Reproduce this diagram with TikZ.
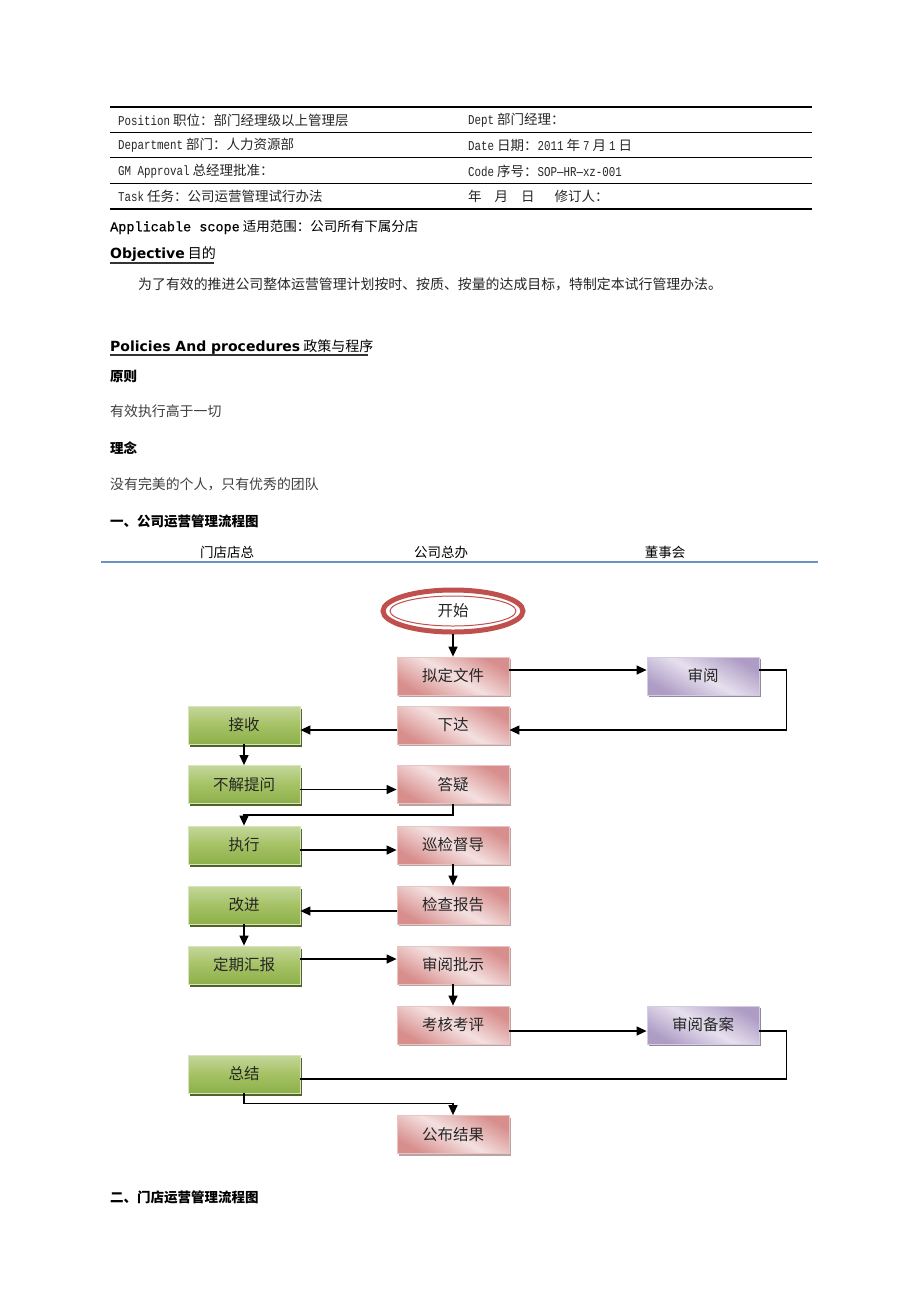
\documentclass[tikz,border=0pt]{standalone}
\usepackage{fontspec}
\setmainfont{Noto Sans CJK SC}
\newfontfamily\mono[FakeStretch=0.8]{Liberation Mono}
\newfontfamily\monow[FakeBold=0.6]{Liberation Mono}
\newfontfamily\tah{DejaVu Sans}
\usetikzlibrary{shapes.geometric,shadows,arrows.meta}
\definecolor{pinkD}{HTML}{D78E8C}
\definecolor{pinkL}{HTML}{F4E0E0}
\definecolor{pinkB}{HTML}{E8C4C3}
\definecolor{pinkS}{HTML}{B9A3A3}
\definecolor{grnT}{HTML}{C4D79B}
\definecolor{grnM}{HTML}{A5C265}
\definecolor{grnB}{HTML}{8DB04A}
\definecolor{grnE}{HTML}{D7E4BD}
\definecolor{grnS}{HTML}{4F6228}
\definecolor{purD}{HTML}{AE9CC4}
\definecolor{purL}{HTML}{E6E0EE}
\definecolor{purE}{HTML}{D5CCE2}
\definecolor{purS}{HTML}{8E8AA0}
\definecolor{startR}{HTML}{C0504D}
\definecolor{blueL}{HTML}{6C92C4}
\definecolor{txtG}{HTML}{262626}
\begin{document}
\begin{tikzpicture}[x=1pt,y=-1pt,
  txt/.style={anchor=west, inner sep=0pt, font=\fontsize{13.5}{15}\selectfont, text=black!85},
  body/.style={anchor=west, inner sep=0pt, font=\fontsize{13.9}{16}\selectfont, text=black!85},
  head/.style={anchor=west, inner sep=0pt, font=\fontsize{13.5}{16}\selectfont\bfseries},
  colh/.style={inner sep=0pt, font=\fontsize{13.5}{16}\selectfont},
  box/.style={rectangle, minimum width=112pt, minimum height=38pt, inner sep=0pt,
     font=\fontsize{15.5}{18}\selectfont, text=txtG, line width=0.8pt},
  pinkbox/.style={box, draw=pinkB, top color=pinkD, bottom color=pinkD, middle color=pinkL, shading angle=-30,
     drop shadow={shadow xshift=1.5pt, shadow yshift=-2pt, fill=pinkS, opacity=1}},
  grnbox/.style={box, draw=grnE, top color=grnT, bottom color=grnB, middle color=grnM,
     drop shadow={shadow xshift=1.5pt, shadow yshift=-2.5pt, fill=grnS, opacity=1}},
  purbox/.style={box, draw=purE, top color=purD, bottom color=purD, middle color=purL, shading angle=-30,
     drop shadow={shadow xshift=1.5pt, shadow yshift=-2pt, fill=purS, opacity=1}},
  conn/.style={draw=black, line width=1.3pt, -{Triangle[length=10pt,width=9pt]}},
  plain/.style={draw=black, line width=1.1pt}
]
\useasboundingbox[fill=white] (0,0) rectangle (920,1302);

% table
\draw[line width=1.4pt] (110,107) -- (812,107);
\draw[line width=1pt] (110,132) -- (812,132);
\draw[line width=1pt] (110,157) -- (812,157);
\draw[line width=1pt] (110,183) -- (812,183);
\draw[line width=1.4pt] (110,209) -- (812,209);
\node[txt] (t1a) at (118,120) {{\mono Position} 职位：部门经理级以上管理层};
\node[txt] (t1b) at (468,120) {{\mono Dept} 部门经理：};
\node[txt] (t2a) at (118,145) {{\mono Department} 部门：人力资源部};
\node[txt] (t2b) at (468,145) {{\mono Date} 日期：{\mono 2011} 年 {\mono 7} 月 {\mono 1} 日};
\node[txt] (t3a) at (118,171) {{\mono GM Approval} 总经理批准：};
\node[txt] (t3b) at (468,171) {{\mono Code} 序号：{\mono SOP—HR—xz-001}};
\node[txt] (t4a) at (118,196) {{\mono Task} 任务：公司运营管理试行办法};
\node[txt] (t4b) at (468,196) {年\hspace{13pt}月\hspace{13pt}日\hspace{20pt}修订人：};

% text
\node[body, font=\fontsize{13.5}{16}\selectfont, text=black] (scope) at (110,227) {{\monow Applicable scope} 适用范围：公司所有下属分店};
\node[anchor=west, inner sep=0pt, font=\fontsize{14}{16}\selectfont] (obj) at (110,254) {{\tah\bfseries Objective} 目的};
\draw[line width=1.6pt, black!80] (110,263) -- (214,263);
\node[body] (para) at (138,284) {为了有效的推进公司整体运营管理计划按时、按质、按量的达成目标，特制定本试行管理办法。};
\node[anchor=west, inner sep=0pt, font=\fontsize{14}{16}\selectfont] (pol) at (110,347) {{\tah\bfseries Policies And procedures} 政策与程序};
\draw[line width=1.6pt, black!80] (110,355) -- (368,355);
\node[head] (yz) at (110,376) {原则};
\node[body, text=black!75] (yx) at (110,411) {有效执行高于一切};
\node[head] (ln) at (110,448) {理念};
\node[body, text=black!75] (my) at (110,484) {没有完美的个人，只有优秀的团队};
\node[head] (h1) at (110,521) {一、公司运营管理流程图};
\node[head] (h2) at (110,1197) {二、门店运营管理流程图};

% column headers
\node[colh] (c1) at (227,552) {门店店总};
\node[colh] (c2) at (441,552) {公司总办};
\node[colh] (c3) at (665,552) {董事会};
\draw[blueL, line width=1.6pt] (101,562) -- (818,562);

% start ellipse
\draw[startR, line width=5pt] (453,611) ellipse (70pt and 21pt);
\draw[startR, line width=1pt] (453,611) ellipse (63pt and 15pt);
\node[ellipse, minimum width=145pt, minimum height=46pt, inner sep=0pt, font=\fontsize{15.5}{18}\selectfont, text=txtG] (st) at (453,611) {开始};

% boxes
\node[pinkbox] (nd) at (453,676) {拟定文件};
\node[purbox]  (sy) at (703,676) {审阅};
\node[pinkbox] (xd) at (453,725) {下达};
\node[grnbox]  (js) at (244,725) {接收};
\node[grnbox]  (bj) at (244,784.5) {不解提问};
\node[pinkbox] (dy) at (453,784.5) {答疑};
\node[grnbox]  (zx) at (244,845) {执行};
\node[pinkbox] (xj) at (453,845) {巡检督导};
\node[grnbox]  (gj) at (244,905) {改进};
\node[pinkbox] (jc) at (453,905) {检查报告};
\node[grnbox]  (hb) at (244,965) {定期汇报};
\node[pinkbox] (pz) at (453,965) {审阅批示};
\node[pinkbox] (kh) at (453,1025) {考核考评};
\node[purbox]  (ba) at (703,1025) {审阅备案};
\node[grnbox]  (zj) at (244,1074) {总结};
\node[pinkbox] (gb) at (453,1134.5) {公布结果};

% connectors
\draw[conn] (st.south) -- (nd.north);
\draw[conn] ([yshift=6pt]nd.east) -- ([yshift=6pt]sy.west);
\draw[conn] ([yshift=6pt]sy.east) -- ++(27,0) |- ([yshift=-5pt]xd.east);
\draw[conn] ([yshift=-5pt]xd.west) -- ([yshift=-5pt]js.east);
\draw[conn] (js.south) -- (bj.north);
\draw[conn] ([yshift=-5pt]bj.east) -- ([yshift=-5pt]dy.west);
\draw[conn] (dy.south) -- ++(0,11) -| (zx.north);
\draw[conn] ([yshift=-5pt]zx.east) -- ([yshift=-5pt]xj.west);
\draw[conn] (xj.south) -- (jc.north);
\draw[conn] ([yshift=-6pt]jc.west) -- ([yshift=-6pt]gj.east);
\draw[conn] (gj.south) -- (hb.north);
\draw[conn] ([yshift=6pt]hb.east) -- ([yshift=6pt]pz.west);
\draw[conn] (pz.south) -- (kh.north);
\draw[conn] ([yshift=-6pt]kh.east) -- ([yshift=-6pt]ba.west);
\draw[plain] ([yshift=-6pt]ba.east) -- ++(27,0) |- ([yshift=-5pt]zj.east);
\draw[conn] (zj.south) -- ++(0,10) -| (gb.north);
\end{tikzpicture}
\end{document}
